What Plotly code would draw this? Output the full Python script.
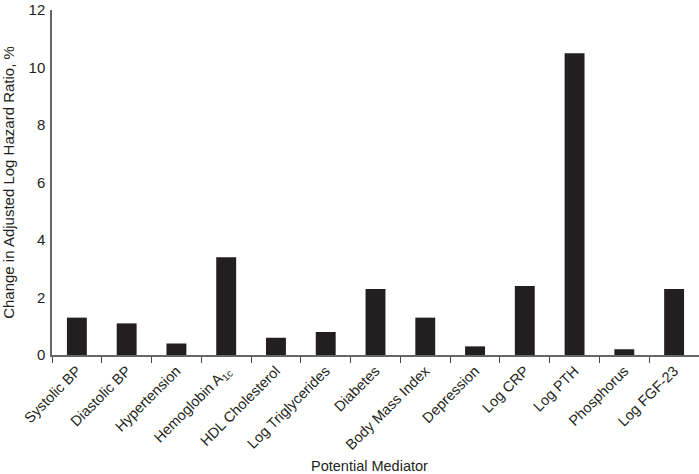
import plotly.graph_objects as go

categories = ["Systolic BP", "Diastolic BP", "Hypertension", "Hemoglobin A<sub>1c</sub>",
              "HDL Cholesterol", "Log Triglycerides", "Diabetes", "Body Mass Index",
              "Depression", "Log CRP", "Log PTH", "Phosphorus", "Log FGF-23"]
values = [1.3, 1.1, 0.4, 3.4, 0.6, 0.8, 2.3, 1.3, 0.3, 2.4, 10.5, 0.2, 2.3]
y_ticks = [0, 2, 4, 6, 8, 10, 12]

fig = go.Figure(go.Bar(x=categories, y=values, marker=dict(color="#231f20", line=dict(width=0)),
                       width=0.4))

fig.update_layout(
    width=699, height=474,
    margin=dict(l=52, r=0, t=10, b=119, autoexpand=False),
    plot_bgcolor="white", paper_bgcolor="white",
    font=dict(family="Liberation Sans, Arial, sans-serif", size=14, color="#231f20"),
    showlegend=False,
    annotations=[dict(text="Potential Mediator", xref="paper", yref="paper",
                      x=(369 - 52) / 647, y=-(466 - 355) / 345, xanchor="center", yanchor="middle",
                      showarrow=False, font=dict(size=14.5))],
)
fig.update_xaxes(
    range=[-0.5, 12.5], tickangle=-45, showline=True, linecolor="#666666", linewidth=1.5,
    ticks="outside", tickson="boundaries", ticklen=6, tickcolor="#444444", tickwidth=1,
    showgrid=False, tickfont=dict(size=14.5), automargin=False,
)
fig.update_yaxes(
    range=[0, 12], tickvals=y_ticks, showline=True, linecolor="#666666", linewidth=1.5,
    ticks="", showgrid=False, zeroline=False, tickfont=dict(size=15), automargin=False,
    ticklabelstandoff=2,
    title=dict(text="Change in Adjusted Log Hazard Ratio, %", font=dict(size=15)),
)

fig.write_html("out.html", config={"displayModeBar": False},
               post_script="document.body.style.margin='0';")
